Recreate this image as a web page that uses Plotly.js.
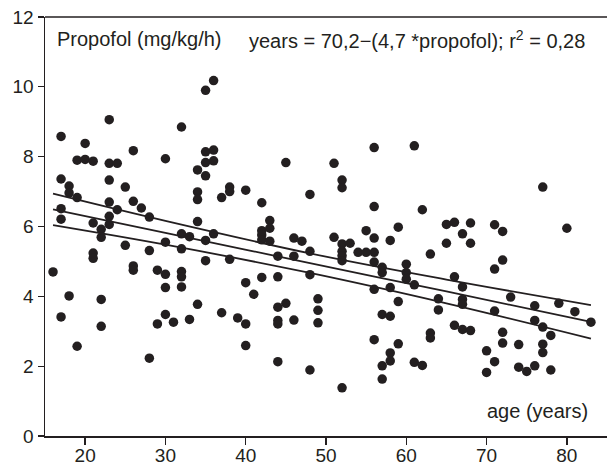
<!DOCTYPE html>
<html>
<head>
<meta charset="utf-8">
<script src="https://cdn.plot.ly/plotly-3.0.1.min.js"></script>
<style>html,body{margin:0;padding:0;background:#fff;}#chart{width:607px;height:465px;}</style>
</head>
<body>
<div id="chart"></div>
<script>
// Age (years) of each patient
const ages = [
  16,
  17,17,17,17,17,
  18,18,18,
  19,19,19,
  20,20,
  21,21,21,21,
  22,22,22,22,
  23,23,23,23,23,23,
  24,24,
  25,25,
  26,26,26,26,
  27,
  28,28,28,
  29,29,
  30,30,30,30,30,
  31,
  32,32,32,32,32,32,
  33,33,
  34,34,34,34,34,
  35,35,35,35,35,35,
  36,36,36,36,
  37,37,
  38,38,38,
  39,
  40,40,40,40,
  41,
  42,42,42,42,42,
  43,43,43,
  44,44,44,44,44,44,
  45,45,
  46,46,46,
  47,
  48,48,48,48,
  49,49,49,
  51,51,
  52,52,52,52,52,52,52,
  53,
  54,
  55,55,
  56,56,56,56,56,56,56,
  57,57,57,57,57,
  58,58,58,58,58,
  59,59,59,
  60,60,60,
  61,61,61,
  62,62,
  63,63,63,
  64,64,
  65,65,
  66,66,66,
  67,67,67,67,67,
  68,68,68,
  70,70,
  71,71,71,71,
  72,72,72,72,
  73,
  74,74,
  75,
  76,76,76,
  77,77,77,77,
  78,78,
  79,
  80,
  81,
  83
];
// Propofol dose (mg/kg/h) for each patient, same order as ages
const propofol = [
  4.70,
  8.58,7.36,6.51,6.21,3.41,
  7.16,6.96,4.01,
  7.90,6.83,2.57,
  8.38,7.92,
  7.87,6.10,5.24,5.09,
  5.92,5.69,3.91,3.14,
  9.06,7.81,7.33,6.70,6.29,6.06,
  7.81,6.48,
  7.13,5.46,
  8.17,6.72,4.87,4.75,
  6.53,
  6.27,5.31,2.23,
  4.75,3.21,
  7.94,5.55,4.63,4.25,3.48,
  3.26,
  8.85,5.79,5.36,4.71,4.56,4.27,
  5.71,3.34,
  7.62,6.99,6.77,6.14,3.77,
  9.90,8.14,7.83,7.45,5.60,5.02,
  10.18,8.19,7.88,5.79,
  6.83,3.53,
  7.13,7.00,5.06,
  3.38,
  7.04,4.39,3.21,2.59,
  4.06,
  6.68,5.88,5.76,5.62,4.54,
  6.17,5.95,5.58,
  5.15,4.56,3.69,3.31,3.21,2.13,
  7.83,3.80,
  5.67,5.15,3.32,
  5.58,
  6.92,5.29,4.62,1.89,
  3.93,3.60,3.24,
  7.81,5.69,
  7.33,7.11,5.50,5.29,5.16,5.02,1.38,
  5.52,
  5.26,
  5.88,5.26,
  8.26,6.57,5.67,5.26,4.98,4.20,2.76,
  4.83,4.68,3.48,2.01,1.63,
  5.60,4.25,3.43,2.38,2.15,
  5.98,3.85,2.64,
  4.92,4.68,4.49,
  8.31,4.33,2.11,
  6.48,2.02,
  5.21,2.95,2.81,
  3.93,3.61,
  6.06,5.52,
  6.12,4.56,3.17,
  5.79,4.27,3.91,3.77,3.05,
  6.10,5.52,3.02,
  2.44,1.82,
  6.05,4.78,3.58,2.13,
  5.86,5.04,2.97,2.66,
  3.98,
  2.62,1.97,
  1.85,
  3.73,3.31,2.01,
  7.13,3.12,2.63,2.39,
  2.88,1.89,
  3.80,
  5.95,
  3.56,
  3.26
];
// Regression line and its confidence band, read at these ages
const lineAges  = [16, 30, 48, 65, 83];
const fitLine   = [6.49, 5.82, 4.95, 4.14, 3.27];
const upperBand = [6.94, 6.16, 5.23, 4.48, 3.75];
const lowerBand = [6.04, 5.48, 4.67, 3.80, 2.79];

const xTicks = [20, 30, 40, 50, 60, 70, 80];
const yTicks = [0, 2, 4, 6, 8, 10, 12];
const xRange = [15, 85];

const ink = '#231f20';
const fontFam = '"Liberation Sans", Arial, Helvetica, sans-serif';

const lineStyle = {color: ink, width: 1.8, shape: 'spline'};
const traces = [
  {x: ages, y: propofol, type: 'scatter', mode: 'markers',
   marker: {color: ink, size: 9.5, line: {width: 0}}, cliponaxis: false},
  {x: lineAges, y: fitLine, type: 'scatter', mode: 'lines', line: lineStyle},
  {x: lineAges, y: upperBand, type: 'scatter', mode: 'lines', line: lineStyle},
  {x: lineAges, y: lowerBand, type: 'scatter', mode: 'lines', line: lineStyle},
  // empty trace that carries the label-only overlay axis
  {x: [], y: [], type: 'scatter', mode: 'markers', xaxis: 'x2', yaxis: 'y', hoverinfo: 'skip'}
];

const layout = {
  width: 607, height: 465,
  margin: {l: 45, r: 0, t: 17, b: 29, pad: 0},
  paper_bgcolor: '#fff', plot_bgcolor: '#fff',
  showlegend: false,
  font: {family: fontFam, size: 19, color: ink},
  xaxis: {
    range: xRange, tickvals: xTicks, showticklabels: false,
    ticks: 'outside', ticklen: 7, tickwidth: 1.3, tickcolor: ink,
    showline: true, linecolor: ink, linewidth: 1.5,
    showgrid: false, zeroline: false
  },
  xaxis2: {
    overlaying: 'x', anchor: 'y', side: 'bottom',
    range: xRange, tickvals: xTicks, ticktext: xTicks.map(String),
    ticks: '', showline: false, showgrid: false, zeroline: false,
    ticklabelstandoff: 6,
    tickfont: {family: fontFam, size: 19, color: ink}
  },
  yaxis: {
    range: [0, 12], tickvals: yTicks, ticktext: yTicks.map(String),
    ticks: 'outside', ticklen: 6, tickwidth: 1.3, tickcolor: ink,
    showline: true, linecolor: ink, linewidth: 1.5,
    showgrid: false, zeroline: false,
    tickfont: {family: fontFam, size: 19, color: ink}
  },
  shapes: [
    {type: 'line', xref: 'paper', yref: 'paper', x0: 0, x1: 1, y0: 1, y1: 1,
     line: {color: ink, width: 1.5}}
  ],
  annotations: [
    {xref: 'paper', yref: 'paper', x: 0.0175, y: 0.9474, xanchor: 'left', yanchor: 'middle',
     text: 'Propofol (mg/kg/h)', showarrow: false, font: {family: fontFam, size: 20, color: ink}},
    {xref: 'paper', yref: 'paper', x: 0.3594, y: 0.9474, xanchor: 'left', yanchor: 'middle',
     text: 'years = 70,2\u2212(4,7 *propofol); r<sup>2</sup> = 0,28', showarrow: false,
     font: {family: fontFam, size: 20, color: ink}},
    {xref: 'paper', yref: 'paper', x: 0.9698, y: 0.060, xanchor: 'right', yanchor: 'middle',
     text: 'age (years)', showarrow: false, font: {family: fontFam, size: 20, color: ink}}
  ]
};

Plotly.newPlot('chart', traces, layout, {displayModeBar: false, staticPlot: true});
</script>
</body>
</html>
